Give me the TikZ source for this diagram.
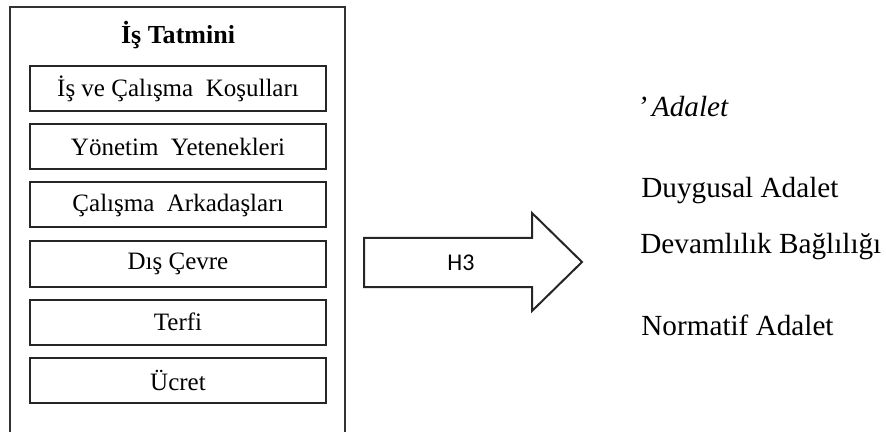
\documentclass[tikz,border=0pt]{standalone}
\usepackage{fontspec}
\setmainfont{Liberation Serif}
\newfontfamily\calfont{Carlito}
\begin{document}
\begin{tikzpicture}[x=0.5pt,y=-0.5pt,
  itembox/.style={draw=black!85, line width=1pt, minimum width=148pt, minimum height=22.5pt, inner sep=0pt, font=\fontsize{12.5}{14}\selectfont},
  righttext/.style={anchor=base west, inner sep=0pt, font=\fontsize{14.6}{17}\selectfont}]
\useasboundingbox (0,0) rectangle (886,432);
\fill[white] (0,0) rectangle (886,432);
% outer frame
\draw[black!80, line width=1pt] (10,440) -- (10,7) -- (345,7) -- (345,440);
\node[font=\fontsize{13}{15}\selectfont\bfseries] (title) at (178,35) {İş Tatmini};
\node[itembox] (b1) at (178,88.5) {İş ve Çalışma\ \ Koşulları};
\node[itembox] (b2) at (178,146.5) {Yönetim\ \ Yetenekleri};
\node[itembox] (b3) at (178,205) {Çalışma\ \ Arkadaşları};
\node[itembox] (b4) at (178,264) {Dış\ Çevre};
\node[itembox] (b5) at (178,322) {Terfi};
\node[itembox] (b6) at (178,380.5) {Ücret};
% arrow
\draw[black!85, line width=1pt, fill=white, line join=miter] (364,238) -- (532,238) -- (532,213) -- (582,262) -- (532,311) -- (532,287) -- (364,287) -- cycle;
\node[font=\calfont\fontsize{12}{14}\selectfont] (h3) at (461,263) {H3};
% right texts
\node[righttext, font=\fontsize{14.6}{17}\selectfont\itshape] (t1) at (637,117) {'\,Adalet};
\node[righttext] (t2) at (641,198) {Duygusal Adalet};
\node[righttext] (t3) at (640,253) {Devamlılık Bağlılığı};
\node[righttext] (t4) at (641,335) {Normatif Adalet};
\end{tikzpicture}
\end{document}
